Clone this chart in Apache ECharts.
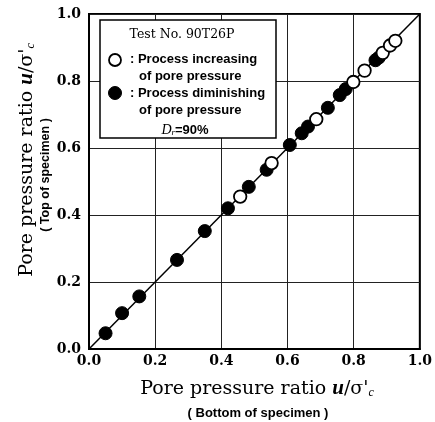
<!DOCTYPE html>
<html>
<head>
<meta charset="utf-8">
<script src="https://cdn.jsdelivr.net/npm/echarts@6/dist/echarts.min.js"></script>
<style>html,body{margin:0;padding:0;background:#fff;}#c{width:435px;height:422px;}</style>
</head>
<body>
<div id="c"></div>
<script>
// Pore pressure ratio at bottom (x) vs top (y) of specimen
const increasingPoints = [
  [0.457, 0.455], [0.552, 0.555], [0.687, 0.686], [0.799, 0.797],
  [0.833, 0.831], [0.888, 0.884], [0.910, 0.906], [0.926, 0.920]
];
const diminishingPoints = [
  [0.050, 0.047], [0.100, 0.107], [0.152, 0.157], [0.266, 0.266],
  [0.350, 0.352], [0.420, 0.420], [0.483, 0.484], [0.537, 0.535],
  [0.607, 0.609], [0.643, 0.644], [0.662, 0.664], [0.722, 0.720],
  [0.758, 0.758], [0.776, 0.776], [0.866, 0.862], [0.876, 0.870]
];
const equalityLine = [[0, 0], [1, 1]];
const tickValues = [0, 0.2, 0.4, 0.6, 0.8, 1.0];

const serif = '"Liberation Serif", "DejaVu Serif", serif';
const wideSerif = '"DejaVu Serif", "Liberation Serif", serif';
const sans = '"Liberation Sans", "DejaVu Sans", sans-serif';

const chart = echarts.init(document.getElementById('c'), null, {renderer: 'canvas'});
const axisCommon = {
  type: 'value', min: 0, max: 1, interval: 0.2,
  axisLine: {show: true, onZero: false, lineStyle: {color: '#000', width: 2}},
  axisTick: {show: false},
  splitLine: {show: true, lineStyle: {color: '#222', width: 1}},
  axisLabel: {color: '#000', fontFamily: wideSerif, fontWeight: 'bold', fontSize: 14,
    formatter: v => tickValues.includes(+v.toFixed(1)) ? v.toFixed(1) : ''}
};
const titleRich = {
  a: {fontFamily: wideSerif, fontSize: 19, fill: '#000'},
  i: {fontFamily: serif, fontSize: 21, fontStyle: 'italic', fontWeight: 'bold', fill: '#000'},
  s: {fontFamily: serif, fontSize: 12, fontStyle: 'italic', fill: '#000', padding: [8, 0, 0, 0]}
};
chart.setOption({
  animation: false,
  backgroundColor: '#fff',
  grid: {left: 89, right: 11, top: 14, bottom: 73, show: true, borderColor: '#000', borderWidth: 2, backgroundColor: 'transparent'},
  xAxis: Object.assign({}, axisCommon, {axisLabel: Object.assign({}, axisCommon.axisLabel, {margin: 5})}),
  yAxis: Object.assign({}, axisCommon, {axisLabel: Object.assign({}, axisCommon.axisLabel, {margin: 8})}),
  series: [
    {type: 'line', data: equalityLine, showSymbol: false, lineStyle: {color: '#000', width: 1.5}, z: 1, silent: true},
    {type: 'scatter', name: 'Process diminishing of pore pressure', data: diminishingPoints, symbol: 'circle', symbolSize: 13,
     itemStyle: {color: '#000', borderColor: '#000', borderWidth: 1, opacity: 1}, z: 3},
    {type: 'scatter', name: 'Process increasing of pore pressure', data: increasingPoints, symbol: 'circle', symbolSize: 12.5,
     itemStyle: {color: '#fff', borderColor: '#000', borderWidth: 1.8, opacity: 1}, z: 4}
  ],
  graphic: [
    // x-axis title
    {type: 'text', x: 257, y: 389, style: {
      text: '{a|Pore pressure ratio }{i|u}{a|/σ\'}{s|c}', align: 'center', verticalAlign: 'middle', rich: titleRich}},
    {type: 'text', x: 258, y: 413, style: {text: '( Bottom of specimen )', align: 'center', verticalAlign: 'middle',
      fontFamily: sans, fontWeight: 'bold', fontSize: 13, fill: '#000'}},
    // y-axis title
    {type: 'text', x: 27, y: 160, rotation: Math.PI / 2, style: {
      text: '{a|Pore pressure ratio }{i|u}{a|/σ\'}{s|c}', align: 'center', verticalAlign: 'middle', rich: titleRich}},
    {type: 'text', x: 46, y: 175, rotation: Math.PI / 2, style: {text: '( Top of specimen )', align: 'center', verticalAlign: 'middle',
      fontFamily: sans, fontWeight: 'bold', fontSize: 12.5, fill: '#000'}},
    // legend box
    {type: 'rect', shape: {x: 100, y: 20, width: 176, height: 118}, style: {fill: '#fff', stroke: '#000', lineWidth: 1.5}, z: 10},
    {type: 'text', x: 182, y: 35, z: 11, style: {text: 'Test No. 90T26P', align: 'center', verticalAlign: 'middle',
      fontFamily: wideSerif, fontSize: 12.5, fill: '#000'}},
    {type: 'circle', shape: {cx: 115, cy: 60, r: 6}, z: 11, style: {fill: '#fff', stroke: '#000', lineWidth: 1.8}},
    {type: 'text', x: 130, y: 59, z: 11, style: {text: ': Process increasing', verticalAlign: 'middle',
      fontFamily: sans, fontWeight: 'bold', fontSize: 13, fill: '#000'}},
    {type: 'text', x: 139, y: 76, z: 11, style: {text: 'of pore pressure', verticalAlign: 'middle',
      fontFamily: sans, fontWeight: 'bold', fontSize: 13, fill: '#000'}},
    {type: 'circle', shape: {cx: 115, cy: 93, r: 6.5}, z: 11, style: {fill: '#000', stroke: '#000', lineWidth: 1}},
    {type: 'text', x: 130, y: 93, z: 11, style: {text: ': Process diminishing', verticalAlign: 'middle',
      fontFamily: sans, fontWeight: 'bold', fontSize: 13, fill: '#000'}},
    {type: 'text', x: 139, y: 110, z: 11, style: {text: 'of pore pressure', verticalAlign: 'middle',
      fontFamily: sans, fontWeight: 'bold', fontSize: 13, fill: '#000'}},
    {type: 'text', x: 185, y: 130, z: 11, style: {
      text: '{d|D}{r|r}{n|=90%}', align: 'center', verticalAlign: 'middle',
      rich: {
        d: {fontFamily: serif, fontSize: 14, fontStyle: 'italic', fill: '#000'},
        r: {fontFamily: serif, fontSize: 9, fontStyle: 'italic', fill: '#000', padding: [6, 0, 0, 0]},
        n: {fontFamily: sans, fontSize: 13, fontWeight: 'bold', fill: '#000'}
      }}}
  ]
});
</script>
</body>
</html>
